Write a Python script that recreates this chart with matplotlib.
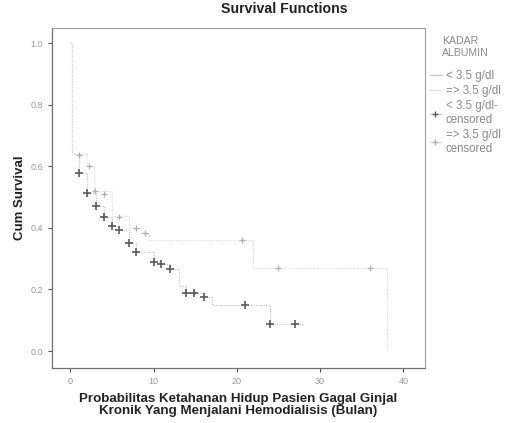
import matplotlib
matplotlib.use("Agg")
import matplotlib.pyplot as plt
from matplotlib.lines import Line2D

plt.rcParams['font.family'] = ['Liberation Sans', 'DejaVu Sans']

# Group "< 3.5 g/dl"
t_low = [0, 0.2, 1.1, 2.0, 3.1, 4.1, 5.0, 5.9, 7.0, 7.9, 10.0, 10.9, 12.0, 13.0, 13.9, 16.0, 17.0, 24.0, 28.0]
s_low = [1.0, 0.64, 0.578, 0.513, 0.47, 0.435, 0.406, 0.393, 0.35, 0.32, 0.29, 0.283, 0.266, 0.21, 0.19, 0.175, 0.15, 0.088, 0.088]
ct_low = [1.1, 2.0, 3.1, 4.1, 5.0, 5.9, 7.0, 7.9, 10.0, 10.9, 12.0, 13.9, 14.9, 16.0, 21.0, 24.0, 27.0]
cs_low = [0.578, 0.513, 0.47, 0.435, 0.406, 0.393, 0.35, 0.32, 0.29, 0.283, 0.266, 0.19, 0.19, 0.175, 0.15, 0.088, 0.088]

# Group "=> 3.5 g/dl"
t_high = [0, 0.2, 2.0, 2.8, 5.0, 7.0, 8.5, 9.5, 22.0, 38.0]
s_high = [1.0, 0.64, 0.60, 0.52, 0.44, 0.40, 0.383, 0.36, 0.27, 0.0]
ct_high = [1.1, 2.2, 3.0, 4.0, 5.9, 7.9, 9.0, 20.6, 25.0, 36.0]
cs_high = [0.636, 0.60, 0.52, 0.51, 0.435, 0.40, 0.383, 0.36, 0.27, 0.27]

x_ticks = [0, 10, 20, 30, 40]
y_ticks = [0.0, 0.2, 0.4, 0.6, 0.8, 1.0]

c_low_line = '#c8c8c8'
c_low_mark = '#5a5a5a'
c_high_line = '#dddddd'
c_high_mark = '#b0b0b0'

fig = plt.figure(figsize=(5.17, 4.23), dpi=100)
ax = fig.add_axes([0.1006, 0.130, 0.7214, 0.804])

ax.step(t_low, s_low, where='post', color=c_low_line, lw=0.9, ls=(0, (1, 1)))
ax.step(t_high, s_high, where='post', color=c_high_line, lw=0.9, ls=(0, (1, 1)))
ax.plot(ct_low, cs_low, ls='none', marker='+', ms=6, mew=1.2, color=c_low_mark)
ax.plot(ct_high, cs_high, ls='none', marker='+', ms=5, mew=0.9, color=c_high_mark)

ax.set_xlim(-2.2, 42.6)
ax.set_ylim(-0.055, 1.049)
ax.set_xticks(x_ticks)
ax.set_xticklabels([str(v) for v in x_ticks])
ax.set_yticks(y_ticks)
ax.set_yticklabels(['%.1f' % v for v in y_ticks])
ax.tick_params(axis='both', labelsize=6.5, colors='#555555', labelcolor='#9a9a9a',
               length=3, width=0.8, direction='out')
for side in ['top', 'right']:
    ax.spines[side].set_color('#a0a0a0')
    ax.spines[side].set_linewidth(0.8)
    ax.spines[side].set_linestyle((0, (1, 0.6)))
for side in ['left', 'bottom']:
    ax.spines[side].set_color('#707070')
    ax.spines[side].set_linewidth(0.9)

fig.text(0.549, 0.979, 'Survival Functions', ha='center', va='center',
         fontsize=10.2, fontweight='bold', color='#222222')
ax.set_ylabel('Cum Survival', fontsize=9.5, fontweight='bold', color='#222222', labelpad=3)
ax.set_xlabel('Probabilitas Ketahanan Hidup Pasien Gagal Ginjal\nKronik Yang Menjalani Hemodialisis (Bulan)',
              fontsize=9.6, fontweight='bold', color='#222222', labelpad=5, linespacing=1.0)

handles = [
    Line2D([], [], color=c_low_line, lw=0.9),
    Line2D([], [], color=c_high_line, lw=0.9),
    Line2D([], [], color=c_low_line, lw=0.9, marker='+', mec=c_low_mark, ms=5),
    Line2D([], [], color=c_high_line, lw=0.9, marker='+', mec=c_high_mark, ms=5),
]
labels = ['< 3.5 g/dl', '=> 3.5 g/dl', '< 3.5 g/dl-\ncensored', '=> 3.5 g/dl\ncensored']
leg = fig.legend(handles, labels, title='KADAR\nALBUMIN', loc='upper left',
                 bbox_to_anchor=(0.822, 0.925), frameon=False, fontsize=8.3,
                 title_fontsize=7.6, handlelength=1.0, handletextpad=0.4,
                 labelspacing=0.25, labelcolor='#8a8a8a', borderaxespad=0.0)
leg.get_title().set_color('#8a8a8a')
leg._legend_box.sep = 9

fig.savefig('out.png', dpi=100, facecolor='white')
